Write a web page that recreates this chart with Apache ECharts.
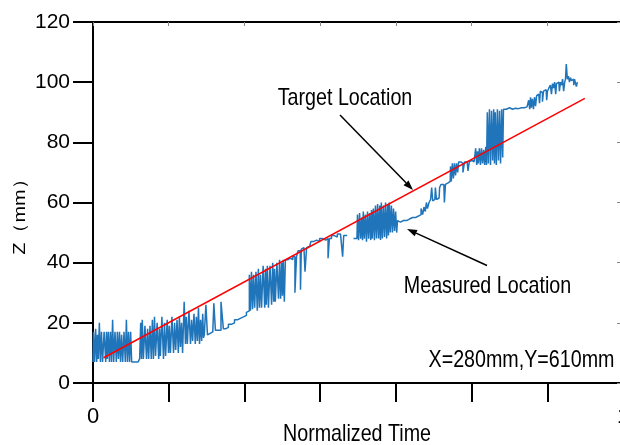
<!DOCTYPE html>
<html><head><meta charset="utf-8">
<script src="https://cdn.jsdelivr.net/npm/echarts@6/dist/echarts.min.js"></script>
<style>html,body{margin:0;padding:0;background:#fff;overflow:hidden}#c{width:620px;height:445px}</style>
</head><body><div id="c"></div>
<script>
// Measured location (normalized time, Z in mm); null = gap in the record
const measuredTime = [
  0,.002,.004,.006,.008,.009,.011,.013,.015,.017,.019,.023,.025,.026,.028,.030,.032,.034,.036,.038,.040,.043,.045,.047,.049,.051,.053,.055,.057,.060,.062,.064,.066,.068,.070,.072,.074,
  .076,.083,.087,
  .089,.091,.092,.094,.096,.100,.102,.104,.106,.109,.111,.113,.115,.117,.119,.123,.125,.126,.128,.132,.134,.136,.138,.142,.143,.145,.147,.151,.153,.155,.157,.160,.162,.164,.166,.168,.170,.174,.175,.177,.179,.183,.185,.187,.189,.192,.194,.196,.198,.200,.202,.204,.206,.208,.209,
  .211,.215,.217,.221,.226,.230,.232,.238,.245,.247,.253,.258,.264,.270,.275,.281,.287,.292,
  .294,.296,.298,.300,.302,.304,.306,.309,.311,.313,.315,.317,.319,.323,.325,.326,.328,.330,.332,.336,.338,.340,.342,.343,.345,.349,.351,.353,.355,.357,.358,.360,.362,.364,.368,.372,.375,.379,.383,.385,
  .389,.391,.392,.394,.398,.402,.404,.409,.413,.419,.425,.430,.436,.442,.445,.447,.453,.458,.464,.470,.472,.474,
  .485,
  .498,.500,.502,.504,.506,.508,.509,.511,.513,.515,.517,.519,.521,.523,.525,.526,.528,.530,.532,.534,.536,.538,.540,.542,.543,.545,.547,.549,.551,.553,.555,.557,.558,.560,.562,.564,.566,.568,.570,.572,.574,.575,
  .577,.583,.589,.594,.600,.606,.611,.617,
  .621,.623,.626,.628,.630,.632,.636,.638,.640,.642,.645,.647,.649,.653,.655,.658,.662,.664,.666,.670,.674,.675,.677,.679,.681,.683,.685,.687,.689,.691,
  .692,.696,.700,.702,.706,.709,.711,.715,.719,
  .721,.723,.725,.726,.728,.730,.732,.734,.736,.738,.740,.742,
  .743,.745,.747,.749,.751,.753,.755,.757,.758,.760,.762,.764,.766,.768,.770,.772,.774,.775,
  .777,.783,.789,.794,.800,.806,.811,.817,.821,
  .823,.825,.826,.828,.830,.832,.834,.836,.838,.840,
  .842,.843,.845,.847,.849,.851,.855,.857,.858,.862,
  .864,.866,.868,.870,.872,.874,.875,.879,.881,.883,.885,.887,.889,.891,.892,.894,.896,.898,.900,.902,.904,.906,.908,.909,.911,.913,.915
];
const measuredZ = [
  7,17,7,18,7,16,8,20,7,17,7,17,7,17,8,17,7,17,7,21,7,17,7,17,8,17,7,16,7,17,7,21,7,17,7,17,7,
  7,7,7,
  8,20,8,21,8,19,8,18,8,19,8,21,8,22,9,20,8,18,9,22,8,20,9,21,10,19,10,22,10,20,11,21,10,22,12,20,10,27,13,22,13,24,13,21,14,23,13,22,14,25,13,21,14,23,15,
  16,26,16,16.5,17,26.5,17.5,17.5,27,18,18.5,19.5,20,21,21.5,22,22.5,23.5,
  24,36,24,37,24.5,36,25,37,24,38,25,36,25,39,25,38,26,39,25,39,26,40,27,38,27,40,28,41,28,40,29,41,27,41,41,41.5,41,42,30,42,
  44,44,31,44.5,45,37,45,45.5,47,47.5,47,48,47.5,48,41.5,48,49,48.5,49.5,49,42,49,
  null,
  48,56,47.5,56.5,48,55,47.5,57,48,56,47,57,48,56.5,47.5,57.5,48,58,47.5,59,48,59.5,48,59,47.5,60,48,59,48.5,60,48,59.5,49,60,50,59,50,58,50.5,57,50,54,
  53.5,54,54,54.5,55,55,55.5,56,
  58,56,58.5,57,60,58,60,61,65,60.5,61,65,61,61.5,65,66,66,60,66,66.5,67,72,67,73,68,73,69,73,70,73.5,
  73.5,73,70,73.5,73.5,70.5,73.5,74,73.5,
  73,78,72.5,77,73,78,72.5,78,73,77.5,72.5,78.5,
  72.5,90,73,91,72.5,90.5,74,91,73,90,72.5,91,74,90.5,73,91,75,91,
  91,91.5,91,91.3,91.2,91.5,91.5,91.8,92,
  94,91,95,91.5,94.5,91,95,92,95.5,96,
  96.5,93,97,96.5,93.5,97,97.5,94,97,98,
  99,96,99.5,98,100,96,99.5,100,97,100,99,101,97,100,101,106,101,102,100,101.5,100.5,101,99,101,100.5,98.5,100
];
// Target location (straight path)
const targetTime = [0.020, 0.928];
const targetZ = [8.4, 94.6];
// Axis / annotation texts
const xEndLabels = ['0', '1'];
const xAxisTitle = 'Normalized Time';
const yAxisTitle = 'Z（mm）';
const labelTarget = 'Target Location';
const labelMeasured = 'Measured Location';
const labelPosition = 'X=280mm,Y=610mm';

const FONT = "'Liberation Sans',Arial,sans-serif";
const chart = echarts.init(document.getElementById('c'), null, {renderer: 'canvas'});

const measuredData = measuredTime.map((t, i) => [t, measuredZ[i] === null ? '-' : measuredZ[i]]);
const targetData = targetTime.map((t, i) => [t, targetZ[i]]);

function arrow(x1, y1, x2, y2) {
  const dx = x2 - x1, dy = y2 - y1, L = Math.hypot(dx, dy);
  const ux = dx / L, uy = dy / L, hl = 10, hw = 3.5;
  const bx = x2 - ux * hl, by = y2 - uy * hl;
  return [
    {type: 'line', silent: true, shape: {x1: x1, y1: y1, x2: bx, y2: by}, style: {stroke: '#000', lineWidth: 1.5}},
    {type: 'polygon', silent: true, shape: {points: [[x2, y2], [bx - uy * hw, by + ux * hw], [bx + uy * hw, by - ux * hw]]}, style: {fill: '#000'}}
  ];
}

// narrow-looking text: regular sans compressed horizontally
const txt = (text, x, y, size, extra) => Object.assign({
  type: 'text', silent: true, x: x, y: y, scaleX: 0.82,
  style: {text: text, fontSize: size, fontFamily: FONT, fill: '#000', align: 'center', verticalAlign: 'middle'}
}, extra || {});

const xLabelFmt = v => v < 0.01 ? xEndLabels[0] : (v > 0.99 ? xEndLabels[1] : '');

chart.setOption({
  animation: false,
  backgroundColor: '#fff',
  grid: {left: 93, right: -3, top: 22, bottom: 62, containLabel: false, outerBoundsMode: 'none'},
  xAxis: [{
    type: 'value', min: 0, max: 1, interval: 1 / 7, position: 'bottom',
    axisLine: {show: true, onZero: false, lineStyle: {color: '#000', width: 2}},
    axisTick: {show: true, inside: false, length: 19, lineStyle: {color: '#000', width: 2}},
    axisLabel: {show: true, formatter: xLabelFmt, margin: 23, fontSize: 22, fontFamily: FONT, color: '#000', showMaxLabel: true, showMinLabel: true},
    splitLine: {show: false}
  }, {
    type: 'value', min: 0, max: 1, interval: 1 / 7, position: 'top',
    axisLine: {show: true, onZero: false, lineStyle: {color: '#000', width: 2}},
    axisTick: {show: true, inside: true, length: 4, lineStyle: {color: '#888', width: 1}},
    axisLabel: {show: false}, splitLine: {show: false}
  }],
  yAxis: [{
    type: 'value', min: 0, max: 120, interval: 20, position: 'left',
    axisLine: {show: true, onZero: false, lineStyle: {color: '#000', width: 2}},
    axisTick: {show: true, inside: false, length: 20, lineStyle: {color: '#000', width: 2}},
    axisLabel: {show: true, margin: 23, fontSize: 21, fontFamily: FONT, color: '#000'},
    splitLine: {show: false}
  }, {
    type: 'value', min: 0, max: 120, interval: 20, position: 'right',
    axisLine: {show: true, onZero: false, lineStyle: {color: '#000', width: 2}},
    axisTick: {show: true, inside: true, length: 6, lineStyle: {color: '#888', width: 1}},
    axisLabel: {show: false}, splitLine: {show: false}
  }],
  series: [{
    type: 'line', name: 'Measured Location', data: measuredData,
    showSymbol: false, connectNulls: false, step: 'middle', z: 2,
    lineStyle: {color: '#2074ba', width: 1.5}
  }, {
    type: 'line', name: 'Target Location', data: targetData,
    showSymbol: false, z: 3,
    lineStyle: {color: '#ff0000', width: 1.5}
  }],
  graphic: [].concat(
    arrow(340, 115, 413, 190),
    arrow(487, 265.5, 407, 229),
    [
      txt(labelTarget, 345, 98, 24),
      txt(labelMeasured, 487.5, 286, 24),
      txt(labelPosition, 521.5, 360, 24),
      txt(xAxisTitle, 357, 434, 24),
      txt(yAxisTitle, 20, 212, 20, {rotation: Math.PI / 2, scaleX: 1, scaleY: 0.85})
    ]
  )
});
</script>
</body></html>
